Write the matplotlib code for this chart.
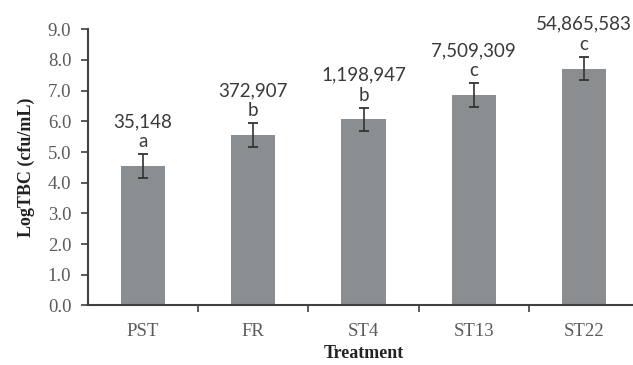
import numpy as np
import matplotlib
matplotlib.use("Agg")
import matplotlib.pyplot as plt

# values
treatments = ["PST", "FR", "ST4", "ST13", "ST22"]
log_tbc = [4.54, 5.55, 6.06, 6.86, 7.72]
err = [0.39, 0.38, 0.38, 0.38, 0.38]
counts = ["35,148", "372,907", "1,198,947", "7,509,309", "54,865,583"]
groups = ["a", "b", "b", "c", "c"]

fig = plt.figure(figsize=(6.33, 3.65), dpi=100)
ax = fig.add_axes([0.139, 0.1633, 0.8705, 0.7564])

x = np.arange(len(treatments))
ax.bar(x, log_tbc, width=0.4, color="#8b8e90", zorder=2)
ax.errorbar(x, log_tbc, yerr=err, fmt="none", ecolor="#333333",
            elinewidth=1.2, capsize=3.5, capthick=1.3, zorder=3)

for xi, v, e, c, g in zip(x, log_tbc, err, counts, groups):
    ax.text(xi, v + e + 0.14, c + "\n" + g, ha="center", va="bottom",
            family="Lato", fontsize=13.5, color="#3a3a3a", linespacing=1.2)

ax.set_xlim(-0.5, len(treatments) - 0.5)
ax.set_ylim(0, 9)
ax.set_yticks(np.arange(0, 9.1, 1.0))
ax.set_yticklabels([f"{t:.1f}" for t in np.arange(0, 9.1, 1.0)])
ax.set_xticks(x)
ax.set_xticklabels(treatments)
ax.set_xticks(np.arange(0.5, len(treatments) - 0.5, 1.0), minor=True)

ax.tick_params(axis="x", which="major", length=0, pad=13)
ax.tick_params(axis="x", which="minor", length=5, width=1.2, color="#404040", direction="out")
ax.tick_params(axis="y", length=5, width=1.2, color="#404040", direction="out", pad=7)
for lab in ax.get_xticklabels() + ax.get_yticklabels():
    lab.set_family("Liberation Serif")
    lab.set_fontsize(13.5)
    lab.set_color("#5a5a5a")

for side in ["top", "right"]:
    ax.spines[side].set_visible(False)
for side in ["left", "bottom"]:
    ax.spines[side].set_color("#404040")
    ax.spines[side].set_linewidth(1.5)

ax.set_ylabel("LogTBC (cfu/mL)", family="Liberation Serif", fontweight="bold",
              fontsize=13, color="#222222", labelpad=9)
ax.set_xlabel("Treatment", family="Liberation Serif", fontweight="bold",
              fontsize=13, color="#222222", labelpad=3)

fig.savefig("out.png", dpi=100)
